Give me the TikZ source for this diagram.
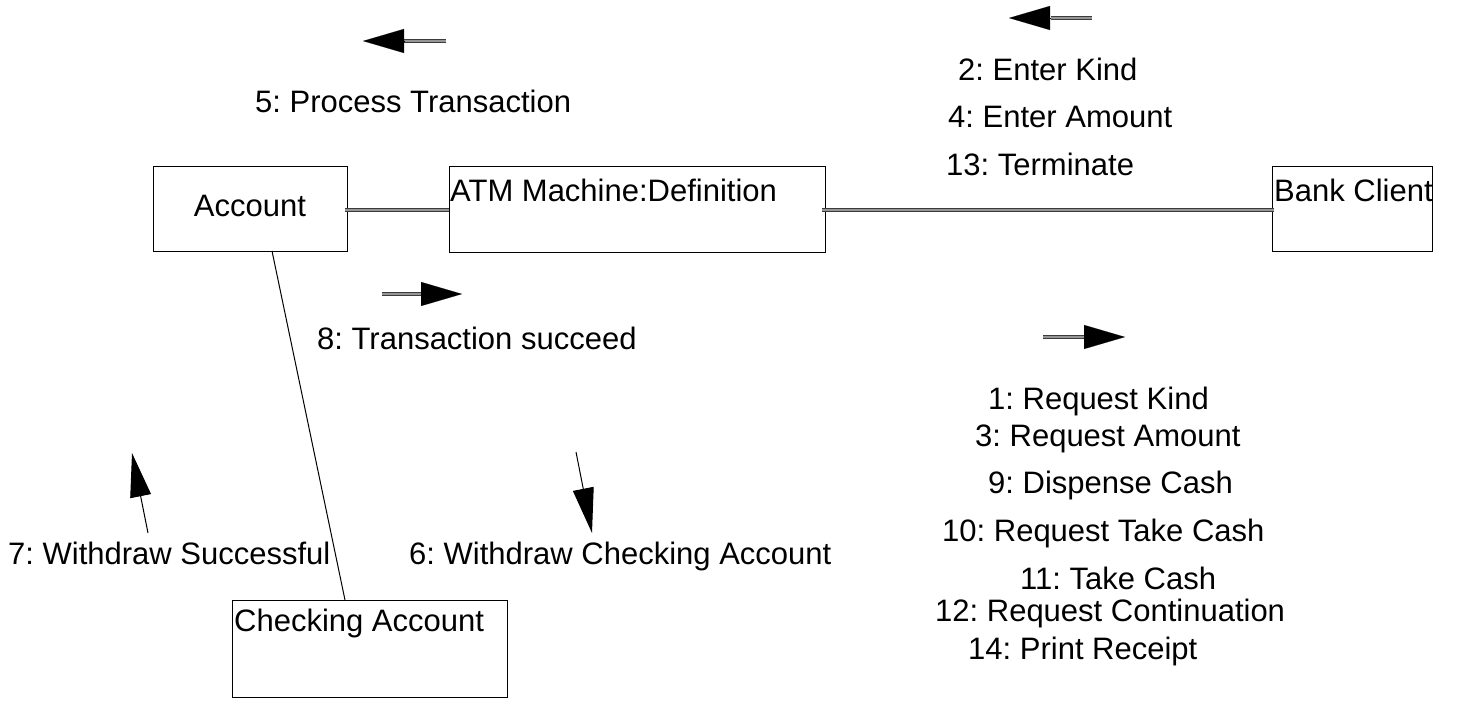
\documentclass[tikz,border=0pt]{standalone}
\usepackage{fontspec}
\setmainfont{Liberation Sans}
\usetikzlibrary{arrows.meta, positioning, calc}
\definecolor{shaftgray}{RGB}{150, 150, 150}
\definecolor{edgegray}{RGB}{60, 60, 60}
\frenchspacing

\begin{document}
\begin{tikzpicture}[
            x=1pt, y=-1pt,
            every node/.style={font=\fontsize{31}{36}\selectfont, inner sep=0pt},
            box/.style={draw=black, line width=1pt, anchor=north west},
            txt/.style={anchor=base west},
            link/.style={draw=edgegray, line width=0.7pt, double=shaftgray, double distance=2.2pt},
            shaft/.style={draw=edgegray, line width=0.7pt, double=shaftgray, double distance=2.2pt},
            head/.style={line width=0.1pt, -{Triangle[length=41pt, width=24pt]}},
            thin/.style={line width=1pt}
        ]
            \useasboundingbox (0,0) rectangle (1460,701);

            % boxes
            \node[box, minimum width=194pt, minimum height=85pt] (account) at (153,166) {};
            \node[box, minimum width=376pt, minimum height=86pt] (atm) at (449,166) {};
            \node[box, minimum width=160pt, minimum height=85pt] (client) at (1272,166) {};
            \node[box, minimum width=275pt, minimum height=97pt] (checking) at (232,600) {};

            \node[anchor=base] (accountlbl) at (250,216) {Account};
            \node[txt] (atmlbl) at (450,201) {ATM Machine:Definition};
            \node[txt] (clientlbl) at (1274,201) {Bank Client};
            \node[txt] (checkinglbl) at (234,631) {Checking Account};

            % links
            \coordinate (accright) at (345,210);
            \coordinate (atmleft) at (449,210);
            \coordinate (atmright) at (822,210);
            \coordinate (clientleft) at (1274,210);
            \coordinate (accbottom) at (272,251);
            \coordinate (checktop) at (345,600);
            \draw[link] (accright) -- (atmleft);
            \draw[link] (atmright) -- (clientleft);
            \draw[thin] (accbottom) -- (checktop);

            % message arrows
            \coordinate (m5tail) at (446,41);
            \coordinate (m5base) at (404,41);
            \coordinate (m5tip) at (363,41);
            \draw[shaft] (m5tail) -- (m5base);
            \draw[head] (m5base) -- (m5tip);

            \coordinate (m2tail) at (1092,18);
            \coordinate (m2base) at (1051,18);
            \coordinate (m2tip) at (1009,18);
            \draw[shaft] (m2tail) -- (m2base);
            \draw[head] (m2base) -- (m2tip);

            \coordinate (m8tail) at (382,294);
            \coordinate (m8base) at (421,294);
            \coordinate (m8tip) at (462,294);
            \draw[shaft] (m8tail) -- (m8base);
            \draw[head] (m8base) -- (m8tip);

            \coordinate (m1tail) at (1043,337);
            \coordinate (m1base) at (1084,337);
            \coordinate (m1tip) at (1125,337);
            \draw[shaft] (m1tail) -- (m1base);
            \draw[head] (m1base) -- (m1tip);

            \coordinate (m7tail) at (148,533);
            \coordinate (m7tip) at (132,453);
            \draw[thin, -{Triangle[length=44pt, width=21pt]}] (m7tail) -- (m7tip);

            \coordinate (m6tail) at (576,452);
            \coordinate (m6tip) at (592,533);
            \draw[thin, -{Triangle[length=45pt, width=21pt]}] (m6tail) -- (m6tip);

            % message labels
            \node[txt] (msg5) at (255,112) {5: Process Transaction};
            \node[txt] (msg2) at (958,81) {2: Enter Kind};
            \node[txt] (msg4) at (948,127) {4: Enter Amount};
            \node[txt] (msg13) at (946,175) {13: Terminate};
            \node[txt] (msg8) at (317,349) {8: Transaction succeed};
            \node[txt] (msg1) at (988,409) {1: Request Kind};
            \node[txt] (msg3) at (975,446) {3: Request Amount};
            \node[txt] (msg9) at (988,493) {9: Dispense Cash};
            \node[txt] (msg10) at (942,541) {10: Request Take Cash};
            \node[txt] (msg11) at (1020,589) {11: Take Cash};
            \node[txt] (msg12) at (935,621) {12: Request Continuation};
            \node[txt] (msg14) at (968,659) {14: Print Receipt};
            \node[txt] (msg7) at (8,564) {7: Withdraw Successful};
            \node[txt] (msg6) at (409,564) {6: Withdraw Checking Account};
        \end{tikzpicture}
\end{document}
